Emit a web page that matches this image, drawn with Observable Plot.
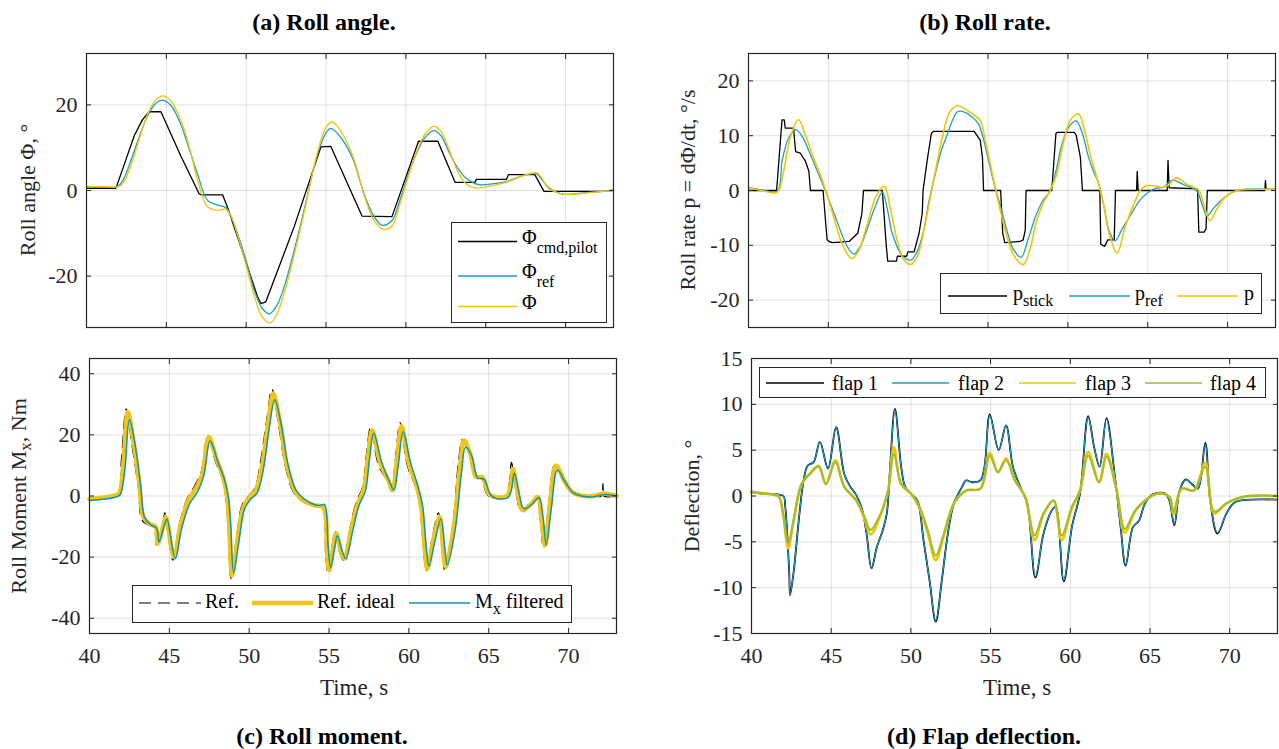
<!DOCTYPE html>
<html><head><meta charset="utf-8">
<script src="https://cdn.jsdelivr.net/npm/d3@7"></script>
<script src="https://cdn.jsdelivr.net/npm/@observablehq/plot@0.6"></script>
<style>
body{margin:0;background:#fff;}
#root{position:relative;width:1279px;height:749px;font-family:"Liberation Serif","Times New Roman",serif;color:#262626;overflow:hidden;background:#fff}
#root svg{position:absolute;overflow:visible}
.title{position:absolute;font-weight:bold;font-size:24px;color:#000;transform:translate(-50%,-50%);white-space:nowrap;line-height:1}
.ylab{position:absolute;font-size:22px;white-space:nowrap;transform:translate(-50%,-50%) rotate(-90deg);line-height:1}
.xlab{position:absolute;font-size:23px;white-space:nowrap;transform:translate(-50%,-50%);line-height:1}
.ylab sub,.xlab sub{font-size:17px;vertical-align:-5px}
.legbox{position:absolute;background:#fff;border:1px solid #262626;box-sizing:border-box}
.legtxt{position:absolute;font-size:20px;line-height:20px;white-space:nowrap;color:#000}
.legtxt sub{font-size:16px;line-height:0}
</style>
</head><body><div id="root"></div>
<script>
// ---------- data (time s, value) ----------
const xTicks = [40, 45, 50, 55, 60, 65, 70];
const ticksA = [-20, 0, 20];
const ticksB = [-20, -10, 0, 10, 20];
const ticksC = [-40, -20, 0, 20, 40];
const ticksD = [-15, -10, -5, 0, 5, 10, 15];

// (a) roll angle
const phiCmd = [[40,0.5],[41.84,0.5],[42.3,5.4],[42.99,12.8],[43.5,16.5],[43.92,18.4],[44.66,18.4],[45.9,8.1],[47.06,-0.8],[47.2,-1.0],[48.52,-1.0],[48.83,-3.9],[50.08,-17.8],[50.71,-24.8],[50.92,-26.4],[51.23,-26.0],[53.0,-8.5],[54.68,10.2],[55.3,10.3],[57.26,-6.0],[59.13,-6.1],[60.79,11.5],[62.0,11.5],[63.08,1.9],[64.32,1.9],[64.42,2.6],[66.3,2.6],[66.42,3.7],[68.07,3.7],[68.65,-0.2],[72.4,-0.2],[73,0.1]];
const phiRef = [[40,0.7],[41,0.8],[41.94,0.9],[42.3,2.5],[42.78,7.0],[43.3,12.5],[43.82,17.4],[44.3,20.2],[44.76,21.1],[45.3,19.8],[45.9,15.5],[46.45,9.5],[46.95,3.9],[47.58,-2.3],[48.2,-3.4],[48.73,-4.0],[49.1,-6.5],[49.46,-10.1],[50.0,-16.5],[50.5,-23.3],[51.0,-27.5],[51.44,-28.8],[51.9,-27.0],[52.38,-22.5],[53.42,-7.8],[54.47,8.5],[55.0,13.5],[55.3,14.5],[55.9,12.5],[56.63,7.8],[57.46,-1.6],[58.0,-6.0],[58.5,-8.1],[59.13,-7.0],[59.6,-2.5],[60.17,3.9],[60.7,9.0],[61.2,12.4],[61.73,14.0],[62.2,12.8],[62.66,9.3],[63.2,5.5],[63.7,3.1],[64.53,1.4],[65.5,1.6],[66.4,2.2],[67.44,3.6],[68.17,3.9],[68.5,2.6],[68.9,0.8],[69.73,-0.8],[70.98,-0.6],[72.0,-0.3],[73,0]];
const phiAct = [[40,0.9],[41,0.9],[42.0,0.9],[42.3,1.8],[42.8,6.0],[43.3,12.0],[43.82,17.8],[44.3,21.0],[44.76,22.1],[45.3,20.8],[45.9,16.5],[46.45,10.0],[46.95,2.5],[47.58,-3.8],[48.2,-4.6],[48.73,-4.4],[49.1,-6.5],[49.46,-10.5],[50.0,-17.5],[50.5,-24.5],[51.0,-29.5],[51.5,-30.9],[51.9,-29.0],[52.38,-24.0],[53.42,-8.5],[54.47,9.0],[55.0,14.8],[55.4,16.0],[55.9,14.0],[56.63,8.5],[57.46,-2.0],[58.0,-7.0],[58.6,-9.1],[59.13,-8.3],[59.6,-3.5],[60.17,3.5],[60.7,9.3],[61.2,13.2],[61.73,15.0],[62.2,13.8],[62.66,10.0],[63.2,4.8],[63.7,1.8],[64.3,0.6],[65.5,1.2],[66.4,2.1],[67.44,3.6],[68.2,4.1],[68.5,3.0],[68.9,0.6],[70.0,-0.9],[71.0,-0.7],[72.0,-0.3],[73,0]];

// (b) roll rate
const pStick = [[40,0],[41.76,0],[42.1,12.9],[42.24,12.9],[42.3,11.4],[42.82,11.4],[42.95,7.1],[43.25,6.8],[43.57,5.3],[43.78,3.5],[43.88,0],[44.67,0],[44.92,-9.0],[45.1,-9.4],[45.3,-9.5],[46.3,-9.3],[46.84,-7.8],[47.1,-4.2],[47.2,0],[48.38,0],[48.63,-10.2],[48.72,-12.9],[49.27,-12.9],[49.32,-12.0],[49.9,-12.0],[49.98,-11.2],[50.37,-11.2],[50.68,-7.8],[50.88,-4.2],[50.93,0],[51.19,5.5],[51.45,10.4],[51.57,10.8],[54.13,10.8],[54.51,9.2],[54.65,6.0],[54.72,0],[55.79,0],[55.92,-7.8],[56.05,-9.5],[57.0,-9.3],[57.2,-9.0],[57.33,-7.2],[57.38,0],[58.99,0],[59.25,10.4],[59.32,10.6],[60.4,10.6],[60.52,10.1],[60.78,6.1],[60.91,0],[62.0,0],[62.06,-9.8],[62.3,-10.2],[62.5,-9.0],[62.9,-9.0],[62.98,0],[64.3,0],[64.34,3.5],[64.4,0],[66.22,0],[66.27,5.5],[66.34,0.5],[68.12,0.3],[68.2,-7.6],[68.53,-7.6],[68.65,-7.0],[68.73,0],[72.33,0],[72.37,1.8],[72.41,0.2],[73,0.2]];
const pRef = [[40,0.5],[40.8,0.1],[41.8,-0.1],[42.11,5.5],[42.5,9.5],[42.95,11.1],[43.4,9.7],[43.77,7.3],[44.2,4.3],[44.54,1.9],[45.05,-1.8],[45.4,-4.5],[45.82,-7.8],[46.2,-10.3],[46.59,-11.6],[47.0,-10.2],[47.48,-6.6],[47.9,-3.2],[48.38,-0.3],[48.7,-3.5],[49.0,-7.8],[49.6,-11.8],[50.17,-12.7],[50.55,-11.2],[50.93,-7.8],[51.3,-2.0],[51.7,3.1],[52.1,7.5],[52.47,10.4],[52.8,13.0],[53.1,14.4],[53.6,14.2],[54.0,13.4],[54.39,12.2],[54.7,9.5],[55.03,5.5],[55.4,1.0],[55.79,-3.0],[56.2,-7.5],[56.6,-10.8],[57.07,-12.2],[57.5,-9.0],[57.97,-4.8],[58.4,-2.0],[58.86,-0.2],[59.25,3.5],[59.63,8.5],[60.1,11.8],[60.52,12.7],[60.9,10.5],[61.29,6.1],[61.6,3.5],[61.93,1.3],[62.3,-3.5],[62.6,-7.5],[62.95,-9.2],[63.4,-7.0],[63.98,-4.2],[64.5,-1.8],[65.0,-0.4],[65.5,0.4],[66.0,0.6],[66.53,1.9],[67.3,1.0],[68.07,-0.1],[68.4,-2.5],[68.71,-4.6],[69.1,-3.3],[69.6,-1.8],[70.37,-0.2],[71.0,0.2],[73,0.2]];
const pAct = [[40,0.6],[40.8,0.0],[41.8,-0.3],[42.2,3.5],[42.6,9.5],[43.13,12.9],[43.6,9.8],[44.0,6.5],[44.54,2.5],[45.0,-1.5],[45.4,-5.5],[45.9,-10.0],[46.46,-12.4],[46.9,-11.0],[47.4,-6.5],[48.0,-1.0],[48.5,0.8],[48.9,-3.5],[49.3,-9.0],[49.7,-12.5],[50.17,-13.5],[50.6,-11.8],[51.0,-7.0],[51.4,-1.0],[51.8,5.0],[52.2,10.5],[52.6,14.3],[53.1,15.5],[53.6,14.8],[54.1,13.8],[54.51,12.8],[54.8,9.5],[55.2,4.0],[55.6,-1.5],[56.1,-7.5],[56.6,-11.8],[57.2,-13.5],[57.6,-11.0],[58.0,-6.0],[58.5,-2.0],[58.9,0],[59.3,3.0],[59.7,8.5],[60.15,12.8],[60.65,14.0],[61.0,11.5],[61.4,6.5],[61.8,2.5],[62.2,-2.0],[62.6,-8.0],[63.08,-11.4],[63.6,-6.5],[64.23,-1.8],[64.6,0.3],[65.0,0.9],[65.5,0.8],[66.0,0.6],[66.3,1.0],[66.79,2.3],[67.4,1.2],[68.2,0.0],[68.5,-2.5],[68.9,-5.5],[69.3,-3.5],[69.84,-1.2],[70.6,0.0],[71.5,0.2],[73,0.2]];

// (c) roll moment
const mxRef = [[40,-1],[41.4,0],[41.8,0.8],[42.0,12],[42.3,28.5],[42.65,17],[43.05,3],[43.3,-8],[43.7,-9.5],[44.05,-10.5],[44.2,-16.5],[44.6,-9],[44.72,-5.5],[45.22,-21],[45.6,-10],[46.1,-1],[46.6,3.5],[47.0,8],[47.4,19.5],[47.9,11],[48.3,6],[48.55,-1],[48.7,-12],[48.85,-27],[49.2,-14],[49.55,-3],[49.95,0],[50.35,2.5],[50.7,11],[51.1,25],[51.42,35],[51.85,23],[52.25,10],[52.75,1.5],[53.3,-1.5],[54.1,-3],[54.55,-3.5],[54.8,-20],[54.93,-25],[55.2,-16],[55.38,-11.5],[55.7,-19],[55.9,-21],[56.35,-9.5],[56.7,-2],[57.1,3],[57.35,14],[57.6,22.5],[58.1,10],[58.65,5],[58.92,1.5],[59.15,12],[59.45,24],[59.9,10],[60.45,2.5],[60.7,-4],[60.95,-20],[61.08,-24.5],[61.45,-14],[61.85,-5.5],[62.1,-19],[62.22,-24],[62.75,-9.5],[63.1,11],[63.35,18.5],[63.8,13],[64.15,6],[64.5,6],[64.9,0.5],[65.3,-0.5],[66.1,0],[66.28,4],[66.42,11],[66.7,1.5],[66.95,-4.5],[67.1,-5],[67.6,-2.5],[68.0,0],[68.25,-9],[68.42,-17],[68.75,-3],[69.12,10],[69.65,5],[70.2,1],[70.7,0],[71.5,0],[72.1,0],[72.15,4],[72.2,0],[73,0]];
const mxIdeal = [[40,-1],[41.46,0],[41.84,0.8],[42.1,9.5],[42.4,27.5],[42.74,18.2],[43.12,4.0],[43.38,-6.9],[43.76,-9.1],[44.14,-10.1],[44.27,-15.6],[44.65,-9.1],[44.78,-6.9],[45.29,-20],[45.68,-10.1],[46.19,-1.4],[46.7,2.9],[47.08,7.3],[47.47,19.3],[47.98,11.7],[48.36,6.2],[48.62,-0.3],[48.75,-10.1],[48.93,-26],[49.26,-14.5],[49.64,-3.6],[50.03,-0.3],[50.41,1.9],[50.79,9.5],[51.18,23.7],[51.51,33.5],[51.94,23.7],[52.33,10.6],[52.84,1.9],[53.35,-1.4],[54.12,-3.1],[54.63,-3.6],[54.88,-18.9],[55.01,-24.3],[55.27,-16.7],[55.45,-12.3],[55.78,-18.9],[55.96,-20.5],[56.42,-10.1],[56.8,-2.5],[57.19,2.4],[57.44,12.8],[57.7,21.5],[58.21,10.6],[58.72,5.1],[58.98,1.9],[59.23,10.6],[59.54,22.8],[60.0,10.6],[60.51,2.9],[60.77,-3.6],[61.02,-18.9],[61.15,-23.8],[61.53,-14.5],[61.92,-6.9],[62.17,-18.9],[62.3,-23.2],[62.81,-10.1],[63.2,9.5],[63.45,18.2],[63.84,13.8],[64.22,6.2],[64.6,6.2],[64.99,0.8],[65.37,-0.3],[66.14,0],[66.34,2.9],[66.52,8.9],[66.78,1.9],[67.03,-4.1],[67.16,-4.7],[67.67,-2.5],[68.06,-0.3],[68.31,-8],[68.52,-16.1],[68.82,-3.6],[69.21,10.0],[69.72,5.1],[70.23,1.3],[70.74,0.2],[71.5,0],[72.2,0.8],[73,0]];
const mxFilt = [[40,-1.5],[41.55,-0.5],[41.9,0.3],[42.2,8],[42.5,25],[42.85,17],[43.2,3.5],[43.45,-7],[43.85,-9.5],[44.2,-10.5],[44.35,-15],[44.72,-9],[44.85,-7.5],[45.37,-20.5],[45.75,-11],[46.27,-2.5],[46.78,1.5],[47.15,6.5],[47.55,18],[48.05,11],[48.45,5.5],[48.7,-0.5],[48.85,-10],[49.02,-25],[49.35,-15],[49.72,-4],[50.1,-1],[50.5,1],[50.88,8.5],[51.25,22],[51.6,31.5],[52.02,23],[52.42,10.5],[52.92,2],[53.45,-1],[54.2,-3],[54.5,-3],[54.72,-2.8],[54.95,-17],[55.1,-23.5],[55.35,-17],[55.52,-13],[55.85,-18.5],[56.05,-20.5],[56.5,-11],[56.88,-3],[57.27,1.5],[57.52,11.5],[57.8,20.5],[58.3,11],[58.8,4.5],[59.06,2],[59.32,9.5],[59.64,21],[60.1,11],[60.6,2.5],[60.85,-3],[61.1,-17.5],[61.25,-23],[61.62,-15],[62.0,-7.5],[62.27,-18],[62.4,-22.5],[62.9,-11],[63.3,8],[63.55,16],[63.94,13],[64.3,6],[64.7,5.5],[65.1,0.5],[65.45,-0.8],[66.2,-0.5],[66.42,2],[66.6,7.5],[66.86,2],[67.1,-3.5],[67.25,-4.2],[67.75,-2.5],[68.15,-0.5],[68.4,-7],[68.6,-16],[68.92,-4],[69.3,8.5],[69.8,4.5],[70.3,1],[70.8,0],[71.5,-0.3],[72.3,0.5],[73,0]];

// (d) flap deflection
const flap1 = [[40,0.5],[40.5,0.3],[41.0,0.2],[41.48,0.2],[42.0,0.0],[42.12,-1.2],[42.37,-8.5],[42.42,-10.8],[42.63,-8.5],[43.01,-1.9],[43.27,1.7],[43.52,3.3],[43.9,3.7],[44.29,5.9],[44.8,3.0],[45.31,7.5],[45.82,2.4],[46.2,1.0],[46.58,0.1],[46.96,-1.6],[47.22,-4.1],[47.53,-7.9],[47.86,-5.6],[48.24,-3.7],[48.49,-1.9],[48.67,2.4],[49.0,9.5],[49.39,3.2],[49.64,1.0],[50.03,0.2],[50.41,-0.5],[50.79,-4.8],[51.17,-9.2],[51.56,-13.7],[51.94,-9.2],[52.32,-4.1],[52.7,-0.8],[53.21,1.0],[53.47,1.7],[53.85,1.5],[54.36,1.7],[54.62,3.2],[54.95,8.9],[55.51,5.0],[55.97,7.7],[56.4,3.2],[56.91,0.8],[57.3,-0.8],[57.81,-8.9],[58.32,-4.1],[58.83,-1.6],[59.08,-1.2],[59.59,-9.3],[60.1,-3.4],[60.61,0.3],[61.12,8.7],[61.5,5.3],[61.84,3.2],[62.27,8.5],[62.78,2.4],[63.16,-3.4],[63.47,-7.6],[63.93,-3.4],[64.31,-2.7],[64.69,-0.8],[65.2,0.2],[65.97,0.25],[66.22,-0.5],[66.53,-3.2],[66.86,0.6],[67.24,1.8],[67.63,1.3],[68.01,0.8],[68.47,5.8],[68.78,-0.5],[69.23,-4.1],[69.8,-1.9],[70.31,-0.7],[71.33,-0.4],[73,-0.4]];
const flap2 = [[40,0.5],[40.5,0.3],[41.0,0.2],[41.48,0.2],[42.0,0.0],[42.12,-1.2],[42.37,-8.5],[42.42,-10.8],[42.63,-8.5],[43.01,-1.9],[43.27,1.7],[43.52,3.3],[43.9,3.7],[44.29,5.9],[44.8,3.0],[45.31,7.5],[45.82,2.4],[46.2,1.0],[46.58,0.1],[46.96,-1.6],[47.22,-4.1],[47.53,-7.9],[47.86,-5.6],[48.24,-3.7],[48.49,-1.9],[48.67,2.4],[49.0,9.4],[49.39,3.2],[49.64,1.0],[50.03,0.2],[50.41,-0.5],[50.79,-4.8],[51.17,-9.2],[51.56,-13.6],[51.94,-9.2],[52.32,-4.1],[52.7,-0.8],[53.21,1.0],[53.47,1.7],[53.85,1.5],[54.36,1.7],[54.62,3.2],[54.95,8.8],[55.51,5.0],[55.97,7.7],[56.4,3.2],[56.91,0.8],[57.3,-0.8],[57.81,-8.8],[58.32,-4.1],[58.83,-1.6],[59.08,-1.2],[59.59,-9.2],[60.1,-3.4],[60.61,0.3],[61.12,8.6],[61.5,5.3],[61.84,3.2],[62.27,8.4],[62.78,2.4],[63.16,-3.4],[63.47,-7.5],[63.93,-3.4],[64.31,-2.7],[64.69,-0.8],[65.2,0.2],[65.97,0.25],[66.22,-0.5],[66.53,-3.1],[66.86,0.6],[67.24,1.8],[67.63,1.3],[68.01,0.8],[68.47,5.7],[68.78,-0.5],[69.23,-4.0],[69.8,-1.9],[70.31,-0.7],[71.33,-0.4],[73,-0.4]];
const flap3 = [[40,0.4],[41.5,0.1],[41.73,-0.1],[41.99,-2.1],[42.3,-5.7],[42.63,-2.9],[43.14,1.3],[43.65,2.4],[44.21,3.3],[44.67,1.3],[45.26,3.9],[45.82,1.0],[46.58,-0.5],[47.09,-2.5],[47.47,-4.2],[48.11,-2.0],[48.57,0.6],[48.93,5.3],[49.39,1.3],[50.03,0.2],[50.54,-1.3],[51.05,-4.0],[51.56,-7.0],[52.07,-4.3],[52.7,-0.8],[53.47,0.6],[54.36,0.8],[54.95,4.7],[55.46,2.6],[55.97,4.1],[56.53,1.7],[57.17,-0.1],[57.76,-4.8],[58.32,-2.0],[58.95,-0.5],[59.46,-4.8],[60.1,-1.3],[60.61,0.6],[61.12,4.8],[61.81,1.5],[62.27,4.6],[62.91,0.6],[63.42,-4.0],[64.06,-1.7],[64.69,-0.5],[65.46,0.25],[66.22,-0.1],[66.48,-2.0],[66.99,0.8],[67.76,0.6],[68.47,3.6],[69.03,-1.9],[69.8,-0.8],[70.82,-0.1],[73,0]];
const flap4 = [[40,0.4],[41.5,0.1],[41.73,-0.1],[41.99,-1.9],[42.3,-5.2],[42.63,-2.7],[43.14,1.3],[43.65,2.4],[44.21,3.2],[44.67,1.3],[45.26,3.7],[45.82,1.0],[46.58,-0.5],[47.09,-2.3],[47.47,-3.7],[48.11,-1.9],[48.57,0.6],[48.93,4.6],[49.39,1.3],[50.03,0.2],[50.54,-1.2],[51.05,-3.7],[51.56,-6.5],[52.07,-4.1],[52.7,-0.8],[53.47,0.6],[54.36,0.8],[54.95,4.4],[55.46,2.6],[55.97,3.9],[56.53,1.7],[57.17,-0.1],[57.76,-4.3],[58.32,-1.9],[58.95,-0.5],[59.46,-4.3],[60.1,-1.2],[60.61,0.6],[61.12,4.4],[61.81,1.5],[62.27,4.3],[62.91,0.6],[63.42,-3.6],[64.06,-1.6],[64.69,-0.5],[65.46,0.25],[66.22,-0.1],[66.48,-1.7],[66.99,0.8],[67.76,0.6],[68.47,3.2],[69.03,-1.7],[69.8,-0.8],[70.82,-0.1],[73,0]];

// ---------- colours ----------
const C_BLACK = "#000000", C_CYAN = "#1aa1c6", C_YEL = "#f5c400", C_YEL2 = "#f0c419", C_TEAL = "#0b99ad", C_GREEN = "#a4bd2e";

const root = document.getElementById("root");
const FONT = '"Liberation Serif","Times New Roman",serif';

function panel({left, top, width, height, mt, mr, mb, ml, yDomain, yTicks, xLabels, marks}) {
  const fmt = d => String(d);
  const blank = () => "";
  const svg = Plot.plot({
    width, height, marginTop: mt, marginRight: mr, marginBottom: mb, marginLeft: ml,
    x: {domain: [40, 73], label: null},
    y: {domain: yDomain, label: null},
    style: {fontFamily: FONT, fontSize: "22px", color: "#262626", background: "transparent", overflow: "visible"},
    marks: [
      Plot.gridX(xTicks, {stroke: "#000", strokeOpacity: 0.12, strokeWidth: 1}),
      Plot.gridY(yTicks, {stroke: "#000", strokeOpacity: 0.12, strokeWidth: 1}),
      ...marks,
      Plot.frame({stroke: "#262626", strokeWidth: 1.2}),
      Plot.axisX(xTicks, {anchor: "bottom", tickSize: -5, tickPadding: 19, tickFormat: xLabels ? fmt : blank, label: null}),
      Plot.axisX(xTicks, {anchor: "top", tickSize: -5, tickFormat: blank, label: null}),
      Plot.axisY(yTicks, {anchor: "left", tickSize: -5, tickPadding: 14, tickFormat: fmt, label: null}),
      Plot.axisY(yTicks, {anchor: "right", tickSize: -5, tickFormat: blank, label: null})
    ]
  });
  svg.style.left = left + "px";
  svg.style.top = top + "px";
  root.appendChild(svg);
}
const ln = (data, stroke, w, extra = {}) => Plot.line(data, {x: d => d[0], y: d => d[1], stroke, strokeWidth: w, curve: "catmull-rom", ...extra});

panel({left: 0, top: 0, width: 640, height: 340, mt: 53, mr: 27, mb: 13, ml: 86, yDomain: [-32, 32], yTicks: ticksA, xLabels: false,
  marks: [ln(phiCmd, C_BLACK, 1.3, {curve: "linear"}), ln(phiRef, C_CYAN, 1.3), ln(phiAct, C_YEL, 1.3)]});
panel({left: 640, top: 0, width: 639, height: 340, mt: 53, mr: 4, mb: 13, ml: 108, yDomain: [-25, 25], yTicks: ticksB, xLabels: false,
  marks: [ln(pStick, C_BLACK, 1.3, {curve: "linear"}), ln(pRef, C_CYAN, 1.3), ln(pAct, C_YEL, 1.6)]});
panel({left: 0, top: 340, width: 640, height: 360, mt: 18, mr: 24, mb: 67, ml: 89, yDomain: [-45, 45], yTicks: ticksC, xLabels: true,
  marks: [ln(mxRef, C_BLACK, 1.2, {strokeDasharray: "12,7"}), ln(mxIdeal, C_YEL2, 4.5), ln(mxFilt, C_TEAL, 1.5)]});
panel({left: 640, top: 340, width: 639, height: 360, mt: 18, mr: 2, mb: 67, ml: 111, yDomain: [-15, 15], yTicks: ticksD, xLabels: true,
  marks: [ln(flap1, C_BLACK, 1.8), ln(flap2, C_CYAN, 1.1), ln(flap3, C_YEL, 2.6), ln(flap4, C_GREEN, 2.2)]});

// ---------- HTML text ----------
function add(cls, html, x, y) {
  const d = document.createElement("div");
  d.className = cls; d.innerHTML = html;
  d.style.left = x + "px"; d.style.top = y + "px";
  root.appendChild(d);
}
add("title", "(a) Roll angle.", 324, 22);
add("title", "(b) Roll rate.", 985, 22);
add("title", "(c) Roll moment.", 322, 736);
add("title", "(d) Flap deflection.", 984, 736);
add("ylab", "Roll angle Φ, °", 28, 190);
add("ylab", "Roll rate p = dΦ/dt, °/s", 688, 190);
add("ylab", "Roll Moment M<sub>x</sub>, Nm", 21, 496);
add("ylab", "Deflection, °", 692, 496);
add("xlab", "Time, s", 354, 687);
add("xlab", "Time, s", 1017, 687);

function legend(box, items, dy, subDrop) {
  const b = document.createElement("div");
  b.className = "legbox";
  Object.assign(b.style, {left: box[0] + "px", top: box[1] + "px", width: (box[2] - box[0]) + "px", height: (box[3] - box[1]) + "px"});
  root.appendChild(b);
  const ns = "http://www.w3.org/2000/svg";
  const s = document.createElementNS(ns, "svg");
  s.setAttribute("width", 1279); s.setAttribute("height", 749);
  s.style.left = "0px"; s.style.top = "0px"; s.style.pointerEvents = "none";
  root.appendChild(s);
  for (const it of items) {
    const l = document.createElementNS(ns, "line");
    l.setAttribute("x1", it.x1); l.setAttribute("x2", it.x2);
    l.setAttribute("y1", it.y); l.setAttribute("y2", it.y);
    l.setAttribute("stroke", it.stroke); l.setAttribute("stroke-width", it.w);
    if (it.dash) l.setAttribute("stroke-dasharray", it.dash);
    s.appendChild(l);
    const t = document.createElement("div");
    t.className = "legtxt";
    t.innerHTML = it.label.replace(/<sub>/g, `<sub style="vertical-align:-${subDrop}px">`);
    t.style.left = it.tx + "px"; t.style.top = (it.y - dy) + "px";
    root.appendChild(t);
  }
}
legend([451, 222, 607, 323], [
  {x1: 458, x2: 517, y: 241.5, stroke: C_BLACK, w: 1.3, tx: 522, label: "Φ<sub>cmd,pilot</sub>"},
  {x1: 458, x2: 517, y: 276, stroke: C_CYAN, w: 1.3, tx: 522, label: "Φ<sub>ref</sub>"},
  {x1: 458, x2: 517, y: 306.5, stroke: C_YEL, w: 1.3, tx: 522, label: "Φ"}
], 15, 9);
legend([940, 273, 1262, 314], [
  {x1: 948, x2: 1007, y: 296, stroke: C_BLACK, w: 1.3, tx: 1013, label: "p<sub>stick</sub>"},
  {x1: 1069, x2: 1130, y: 296, stroke: C_CYAN, w: 1.3, tx: 1135, label: "p<sub>ref</sub>"},
  {x1: 1177, x2: 1238, y: 296, stroke: C_YEL, w: 1.6, tx: 1244, label: "p"}
], 13, 6);
legend([132, 585, 572, 623], [
  {x1: 139, x2: 201, y: 603, stroke: C_BLACK, w: 1.2, dash: "12,7", tx: 205, label: "Ref."},
  {x1: 252, x2: 313, y: 603, stroke: C_YEL2, w: 4.5, tx: 317, label: "Ref. ideal"},
  {x1: 409, x2: 470, y: 603, stroke: C_TEAL, w: 1.5, tx: 475, label: "M<sub>x</sub> filtered"}
], 12, 6);
legend([759, 367, 1266, 398], [
  {x1: 766, x2: 824, y: 383, stroke: C_BLACK, w: 1.3, tx: 832, label: "flap 1"},
  {x1: 892, x2: 949, y: 383, stroke: C_CYAN, w: 1.3, tx: 958, label: "flap 2"},
  {x1: 1019, x2: 1076, y: 383, stroke: C_YEL, w: 1.3, tx: 1085, label: "flap 3"},
  {x1: 1145, x2: 1202, y: 383, stroke: C_GREEN, w: 1.6, tx: 1210, label: "flap 4"}
], 10, 6);
</script>
</body></html>
